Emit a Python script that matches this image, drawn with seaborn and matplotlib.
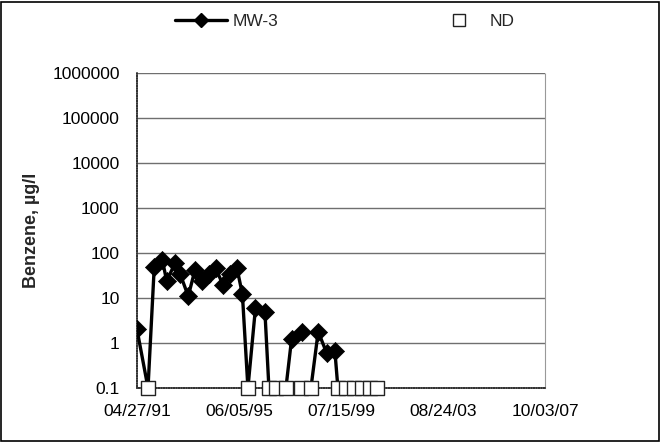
import pandas as pd
import numpy as np
import matplotlib
matplotlib.use("Agg")
import matplotlib.pyplot as plt
import matplotlib.dates as mdates
from matplotlib.patches import Rectangle
from matplotlib.lines import Line2D
import seaborn as sns

# ----------------------------- Data ----------------------------- #
# MW-3 benzene samples; 0.1 = non-detect drawn on the line, seg = unbroken line piece
mw3_dates = [
    "1991-04-27", "1991-10-06", "1992-01-06", "1992-05-03", "1992-07-07",
    "1992-11-06", "1993-01-18", "1993-05-20", "1993-08-27", "1993-12-12",
    "1994-03-21", "1994-06-27", "1994-10-17", "1995-01-24", "1995-05-07",
    "1995-07-26", "1995-10-15", "1996-02-03", "1996-06-21", "1996-08-19",
    "1996-11-30", "1997-04-26", "1997-07-19", "1997-12-13", "1998-04-29",
    "1998-08-14", "1998-12-16", "1999-04-17", "1999-05-31",
]
mw3_values = [
    2, 0.1, 50, 70, 24,
    59, 35, 11, 42, 24,
    35, 46, 19, 35, 46,
    12, 0.1, 6, 5, 0.1,
    0.1, 0.1, 1.25, 1.8, 0.1,
    1.8, 0.6, 0.65, 0.1,
]
mw3_segment = [1] * 24 + [2] * 5

nd_dates = [
    "1991-10-06", "1995-10-15", "1996-08-19", "1996-11-30", "1997-04-26",
    "1997-12-03", "1998-04-29", "1999-05-31", "1999-09-26", "2000-01-21",
    "2000-05-18", "2000-09-12", "2000-12-24",
]
nd_values = [0.1] * len(nd_dates)

tick_dates = ["1991-04-27", "1995-06-05", "1999-07-15", "2003-08-24", "2007-10-03"]
y_ticks = [0.1, 1, 10, 100, 1000, 10000, 100000, 1000000]

mw3 = pd.DataFrame({"Date": pd.to_datetime(mw3_dates), "Benzene": mw3_values,
                    "seg": mw3_segment})
detects = mw3[mw3["Benzene"] > 0.1]
nd = pd.DataFrame({"Date": pd.to_datetime(nd_dates), "Benzene": nd_values})

# ----------------------------- Plot ----------------------------- #
sns.set_style("white")
plt.rcParams["font.family"] = ["Liberation Sans", "DejaVu Sans"]

fig = plt.figure(figsize=(6.62, 4.42), dpi=100)
ax = fig.add_axes([137 / 662, 1 - 388 / 442, 408 / 662, 315 / 442])

sns.lineplot(data=mw3, x="Date", y="Benzene", units="seg", estimator=None,
             color="black", linewidth=2.4, ax=ax, zorder=3)
sns.scatterplot(data=detects, x="Date", y="Benzene", marker="D", s=85,
                color="black", edgecolor="black", linewidth=0.5, ax=ax, zorder=4)
sns.scatterplot(data=nd, x="Date", y="Benzene", marker="s", s=100,
                facecolor="white", edgecolor="#222222", linewidth=1.0, ax=ax,
                zorder=5, clip_on=False)

ax.set_yscale("log")
ax.set_ylim(0.1, 1000000)
ax.set_yticks(y_ticks)
ax.set_yticklabels([f"{v:g}" if v < 1 else f"{int(v)}" for v in y_ticks])
ax.minorticks_off()
ax.yaxis.grid(True, color="#6f6f6f", linewidth=1.0)
ax.set_axisbelow(True)

ax.set_xlim(pd.Timestamp(tick_dates[0]), pd.Timestamp(tick_dates[-1]))
ax.set_xticks(pd.to_datetime(tick_dates))
ax.xaxis.set_major_formatter(mdates.DateFormatter("%m/%d/%y"))

ax.tick_params(axis="both", labelsize=12.5, colors="black", length=5,
               width=1, direction="inout")
ax.tick_params(axis="y", pad=10)
ax.tick_params(axis="x", pad=9)
ax.set_xlabel("")
ax.set_ylabel("Benzene, µg/l", fontsize=13, fontweight="bold", labelpad=9)

for side in ["left", "bottom"]:
    ax.spines[side].set_color("#333333")
    ax.spines[side].set_linewidth(1.2)
    ax.spines[side].set_linestyle((0, (1, 0.5)))
ax.spines["top"].set_visible(False)
ax.spines["right"].set_color("#999999")
ax.spines["right"].set_linewidth(0.8)
ax.spines["right"].set_linestyle((0, (1, 1)))

handles = [
    Line2D([], [], color="black", linewidth=2.4, marker="D", markersize=7),
    Line2D([], [], linestyle="none", marker="s", markersize=9,
           markerfacecolor="white", markeredgecolor="#222222"),
]
fig.legend(handles, ["MW-3", "ND"], loc="center", bbox_to_anchor=(0.521, 0.951),
           ncol=2, frameon=False, fontsize=12.5, columnspacing=8.9,
           handlelength=3.0, handletextpad=0.3)

fig.patches.append(Rectangle((0.002, 0.003), 0.994, 0.993, transform=fig.transFigure,
                             fill=False, edgecolor="black", linewidth=1.2))

fig.savefig("out.png", dpi=100)
